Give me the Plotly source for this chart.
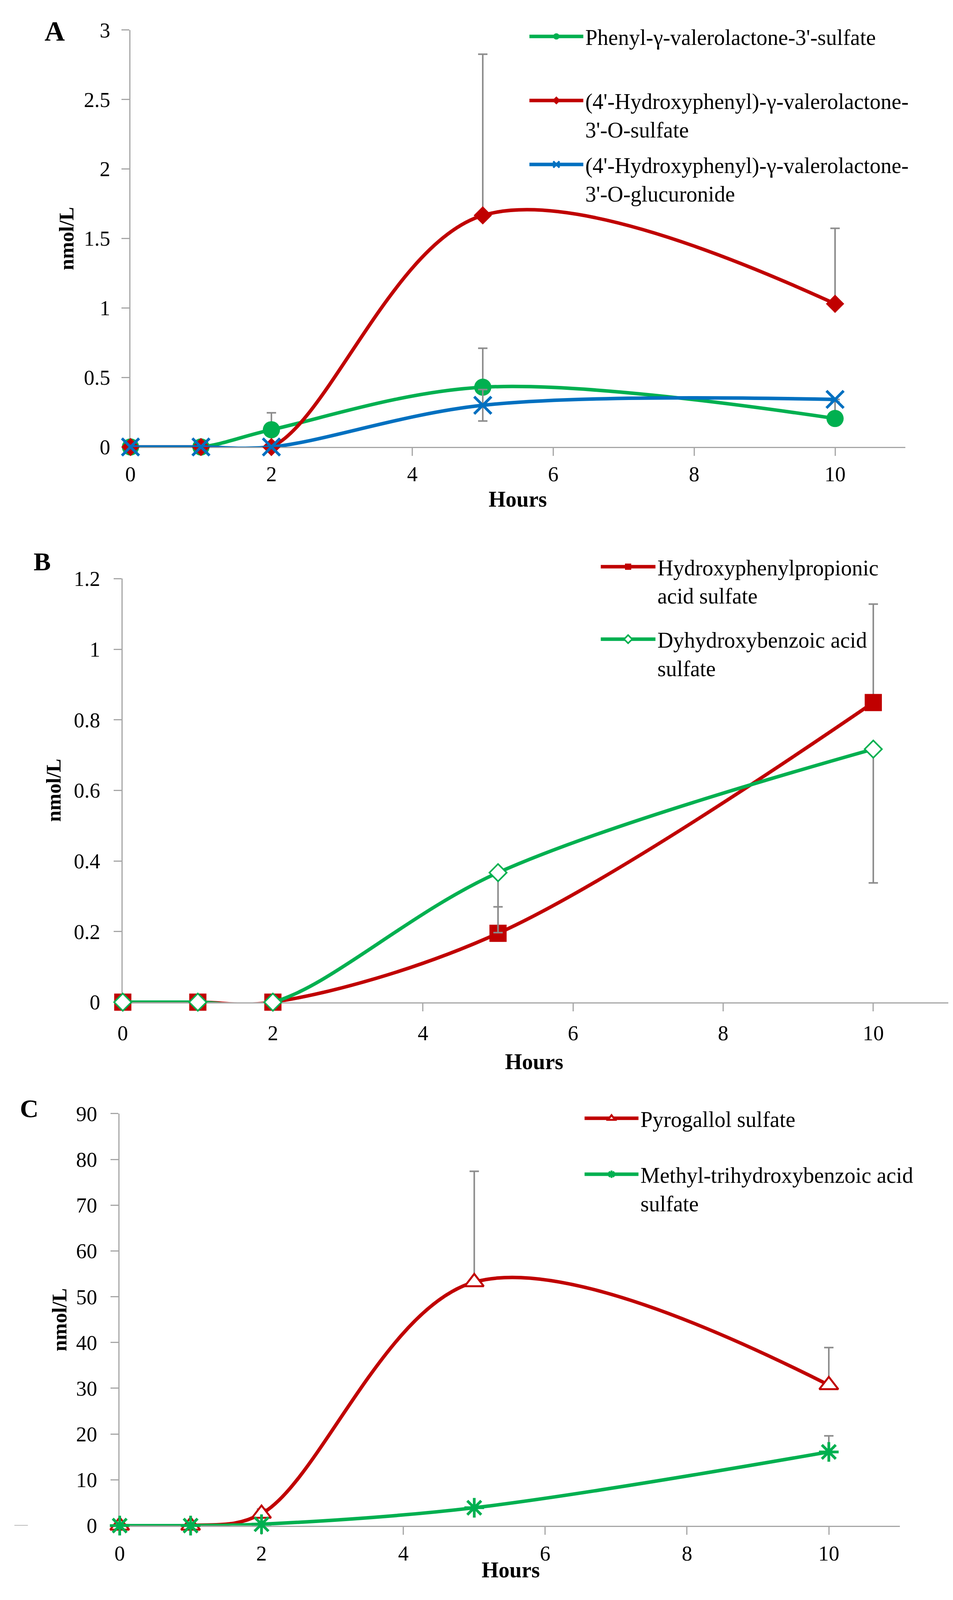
import plotly.graph_objects as go

# reference canvas in px; everything below is placed as a fraction of it
W, H = 2440, 4353
H_FIG = 4100  # approx. visible page height, only used for the px legend gaps
SY = H_FIG / H
FONT = "Liberation Serif"
GREEN = "#00b050"
RED = "#c00000"
BLUE = "#0070c0"
GREY = "#8c8c8c"
AXIS = "#a6a6a6"

hours = [0, 1, 2, 5, 10]

# A - valerolactones
pvl_sulfate = [0, 0, 0.124, 0.43, 0.205]
pvl_sulfate_up = [None, None, 0.122, 0.28, 0.12]
hpvl_sulfate = [0, 0, 0, 1.666, 1.03]
hpvl_sulfate_up = [None, None, None, 1.16, 0.543]
hpvl_glucuronide = [0, 0, 0, 0.30, 0.342]
hpvl_glucuronide_err = [None, None, None, 0.113, None]

# B
hpp_sulfate = [0, 0, 0, 0.195, 0.849]
hpp_sulfate_up = [None, None, None, 0.075, 0.279]
dhb_sulfate = [0, 0, 0, 0.367, 0.717]
dhb_sulfate_down = [None, None, None, 0.17, 0.379]

# C
pyro_sulfate = [0, 0, 2.6, 53.2, 30.7]
pyro_sulfate_up = [None, None, 1.0, 24.2, 8.2]
mthb_sulfate = [0, 0, 0.3, 3.9, 16.1]
mthb_sulfate_up = [None, None, None, None, 3.5]


def px_x(p):
    return p / W


def px_y(p):
    return 1 - p / H


def err(up=None, down=None):
    none = [None] * len(hours)
    return dict(type="data", symmetric=False, array=up or none,
                arrayminus=down or none, color=GREY, thickness=4, width=12)


def series(y, name, color, marker, xa, ya, legend, error_y):
    return go.Scatter(x=hours, y=y, name=name, mode="lines+markers",
                      line=dict(color=color, width=9, shape="spline", smoothing=1),
                      marker=marker, error_y=error_y, xaxis=xa, yaxis=ya,
                      legend=legend, legendgroup=name, cliponaxis=False)


fig = go.Figure()

# panel A
fig.add_trace(series(pvl_sulfate, "Phenyl-γ-valerolactone-3'-sulfate<br>\u00a0", GREEN,
                     dict(symbol="circle", size=44, color=GREEN),
                     "x", "y", "legend", err(pvl_sulfate_up)))
fig.add_trace(series(hpvl_sulfate, "(4'-Hydroxyphenyl)-γ-valerolactone-<br>3'-O-sulfate", RED,
                     dict(symbol="diamond", size=36, color=RED),
                     "x", "y", "legend", err(hpvl_sulfate_up)))
fig.add_trace(series(hpvl_glucuronide, "(4'-Hydroxyphenyl)-γ-valerolactone-<br>3'-O-glucuronide", BLUE,
                     dict(symbol="x-thin-open", size=44, color=BLUE, line=dict(color=BLUE, width=7)),
                     "x", "y", "legend", err(hpvl_glucuronide_err, hpvl_glucuronide_err)))

# panel B
fig.add_trace(series(hpp_sulfate, "Hydroxyphenylpropionic<br>acid sulfate", RED,
                     dict(symbol="square", size=44, color=RED),
                     "x2", "y2", "legend2", err(hpp_sulfate_up)))
fig.add_trace(series(dhb_sulfate, "Dyhydroxybenzoic acid<br>sulfate", GREEN,
                     dict(symbol="diamond", size=34, color="white", line=dict(color=GREEN, width=4)),
                     "x2", "y2", "legend2", err(None, dhb_sulfate_down)))

# panel C
fig.add_trace(series(pyro_sulfate, "Pyrogallol sulfate", RED,
                     dict(symbol="triangle-up", size=42, color="white", line=dict(color=RED, width=5)),
                     "x3", "y3", "legend3", err(pyro_sulfate_up)))
fig.add_trace(series(mthb_sulfate, "Methyl-trihydroxybenzoic acid<br>sulfate", GREEN,
                     dict(symbol="asterisk-open", size=42, color=GREEN, line=dict(color=GREEN, width=7)),
                     "x3", "y3", "legend3", err(mthb_sulfate_up)))

axis_style = dict(showline=True, linecolor=AXIS, linewidth=3, ticks="outside", ticklen=20,
                  tickwidth=3, tickcolor=AXIS, showgrid=False, zeroline=False,
                  tickfont=dict(size=54, color="black", family=FONT), layer="below traces")

panels = [
    # plot box (left, right, top, bottom) in reference px, y range, y dtick, label standoffs
    dict(box=(316, 2325, 43, 1199), yr=[0, 3], dy=0.5, xs=0, ys=18),
    dict(box=(296, 2436, 1564, 2738), yr=[0, 1.2], dy=0.2, xs=10, ys=24),
    dict(box=(288, 2310, 3047, 4189), yr=[0, 90], dy=10, xs=2, ys=24),
]
for i, p in enumerate(panels, start=1):
    l, r, t, b = p["box"]
    sfx = "" if i == 1 else str(i)
    fig.update_layout({
        "xaxis" + sfx: dict(axis_style, domain=[px_x(l), px_x(r)], range=[0, 11], dtick=2, tick0=0,
                            anchor="y" + sfx, ticklabelstandoff=p["xs"]),
        "yaxis" + sfx: dict(axis_style, domain=[px_y(b), px_y(t)], range=p["yr"], dtick=p["dy"], tick0=0,
                            anchor="x" + sfx, ticklabelstandoff=p["ys"]),
    })

# legends: y given by the first symbol row in the reference
LEG_FONT = 56
sym_off = 5 + (1.3 * LEG_FONT + 3) / 2
legend_style = dict(xanchor="left", yanchor="top", valign="top", bgcolor="rgba(0,0,0,0)",
                    font=dict(size=LEG_FONT, color="black", family=FONT))
fig.update_layout(
    legend=dict(legend_style, x=px_x(1345), y=px_y(60) + sym_off / H_FIG, itemwidth=138,
                tracegroupgap=174 * SY - 2 * 1.3 * LEG_FONT - 3),
    legend2=dict(legend_style, x=px_x(1530), y=px_y(1530) + sym_off / H_FIG, itemwidth=140,
                 tracegroupgap=197 * SY - 2 * 1.3 * LEG_FONT - 3),
    legend3=dict(legend_style, x=px_x(1488), y=px_y(3059) + sym_off / H_FIG, itemwidth=138,
                 tracegroupgap=152 * SY - 1.3 * LEG_FONT - 3),
)

notes = [
    ("A", 119, 47, 72, 0), ("B", 87, 1517, 66, 0), ("C", 54, 3032, 66, 0),
    ("Hours", 1320, 1344, 56, 0), ("Hours", 1362, 2903, 56, 0), ("Hours", 1302, 4312, 56, 0),
    ("nmol/L", 150, 621, 52, -90), ("nmol/L", 117, 2151, 52, -90), ("nmol/L", 132, 3618, 52, -90),
]
for text, x, y, size, ang in notes:
    fig.add_annotation(text="<b>%s</b>" % text, x=px_x(x), y=px_y(y), xref="paper", yref="paper",
                       xanchor="center", yanchor="middle", showarrow=False, textangle=ang,
                       font=dict(size=size, color="black", family=FONT))

# small stray dash left of panel C baseline
fig.add_shape(type="line", xref="paper", yref="y3", x0=px_x(15), x1=px_x(50), y0=0, y1=0,
              line=dict(color=AXIS, width=3))

# no fixed size: the figure fills the browser page
fig.update_layout(margin=dict(l=0, r=0, t=0, b=0), autosize=True,
                  paper_bgcolor="white", plot_bgcolor="white",
                  font=dict(family=FONT, color="black"))

fig.write_html("out.html")
